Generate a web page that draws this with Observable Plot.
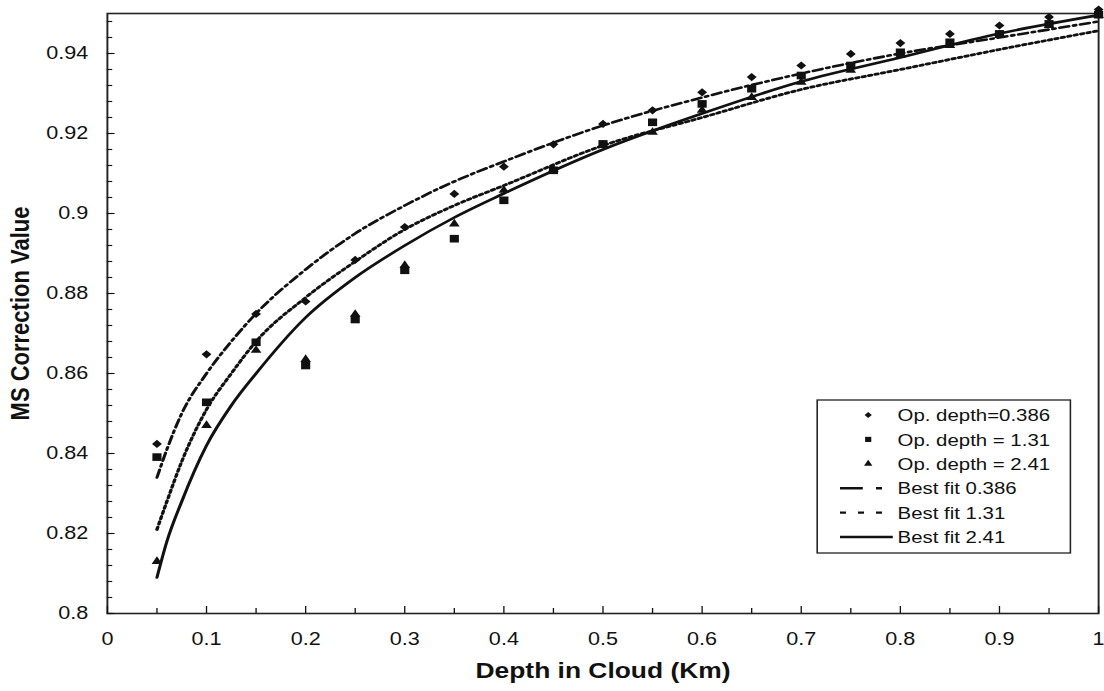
<!DOCTYPE html>
<html><head><meta charset="utf-8">
<script src="https://cdn.jsdelivr.net/npm/d3@7"></script>
<script src="https://cdn.jsdelivr.net/npm/@observablehq/plot@0.6"></script>
<style>
html,body{margin:0;padding:0;background:#fff;overflow:hidden}
#chart svg{display:block}
</style>
</head><body><div id="chart"></div>
<script>
// ---- data ----
const depths = [0.05,0.1,0.15,0.2,0.25,0.3,0.35,0.4,0.45,0.5,0.55,0.6,0.65,0.7,0.75,0.8,0.85,0.9,0.95,1.0];
const od0386 = [0.8424,0.8648,0.8749,0.878,0.8884,0.8966,0.9049,0.9117,0.9173,0.9224,0.9258,0.9303,0.9341,0.937,0.9399,0.9426,0.9449,0.947,0.9491,0.951];
const od131  = [0.8391,0.8528,0.8678,0.862,0.8735,0.8858,0.8937,0.9033,0.9108,0.9174,0.9228,0.9274,0.9312,0.9345,0.937,0.9403,0.9428,0.9449,0.9474,0.9497];
const od241  = [0.813,0.847,0.8658,0.8635,0.8748,0.887,0.8974,0.9058,0.911,0.917,0.9203,0.9258,0.929,0.9328,0.9358,0.9395,0.942,0.9445,0.947,0.9495];

const fitDepths = [0.05,0.06,0.075,0.1,0.125,0.15,0.2,0.25,0.3,0.35,0.4,0.5,0.6,0.7,0.8,0.9,1.0];
const fit0386 = [0.834,0.841,0.850,0.860,0.868,0.875,0.886,0.895,0.902,0.908,0.913,0.922,0.929,0.935,0.940,0.944,0.948];
const fit131  = [0.821,0.828,0.838,0.851,0.860,0.868,0.879,0.888,0.896,0.902,0.907,0.917,0.924,0.931,0.936,0.941,0.9457];
const fit241  = [0.809,0.818,0.828,0.842,0.852,0.860,0.874,0.884,0.892,0.899,0.905,0.916,0.925,0.933,0.939,0.945,0.9496];

const xTickLabels = [0,0.1,0.2,0.3,0.4,0.5,0.6,0.7,0.8,0.9,1];
const yTickLabels = [0.8,0.82,0.84,0.86,0.88,0.9,0.92,0.94];
const xTitle = "Depth in Cloud (Km)";
const yTitle = "MS Correction Value";
const legendLabels = ["Op. depth=0.386","Op. depth = 1.31","Op. depth = 2.41","Best fit 0.386","Best fit 1.31","Best fit 2.41"];

// ---- chart ----
const W = 920, H = 691, OUTW = 1104;
const font = "'Liberation Sans', Arial, Helvetica, sans-serif";
const ink = "#111";
const pts = ys => depths.map((d, i) => ({x: d, y: ys[i]}));
const fit = ys => fitDepths.map((d, i) => ({x: d, y: ys[i]}));
const xMinor = xTickLabels.slice(0, -1).map(v => v + 0.05);
const yMinor = d3.range(0, 38).map(i => 0.8 + i * 0.004);

function legend(index, scales, values, dims) {
  const bx = dims.width - dims.marginRight - 234;
  const by = dims.height - dims.marginBottom - 213;
  const g = d3.create("svg:g").attr("font-family", font).attr("font-size", 17).attr("fill", ink)
    .attr("text-anchor", "start");
  g.append("rect").attr("x", bx).attr("y", by).attr("width", 211).attr("height", 153)
    .attr("fill", "#fff").attr("stroke", "#222").attr("stroke-width", 1.3);
  const rowY = i => by + 15 + i * 24.4;
  const syms = [[d3.symbolDiamond2, 2.7], [d3.symbolSquare, 2.9], [d3.symbolTriangle, 2.6]];
  syms.forEach(([s, r], i) => g.append("path")
    .attr("transform", `translate(${bx + 42.5},${rowY(i)})`)
    .attr("d", d3.symbol(s, Math.PI * r * r)()));
  const dashes = ["19,11,5,40", "5,10", null];
  dashes.forEach((da, j) => {
    const l = g.append("line").attr("x1", bx + 19).attr("x2", bx + 63)
      .attr("y1", rowY(3 + j)).attr("y2", rowY(3 + j))
      .attr("stroke", ink).attr("stroke-width", 2.4);
    if (da) l.attr("stroke-dasharray", da);
  });
  legendLabels.forEach((t, i) => g.append("text").attr("x", bx + 67).attr("y", rowY(i))
    .attr("dy", "0.36em").attr("text-anchor", "start").text(t));
  return g.node();
}

const chart = Plot.plot({
  width: W, height: H,
  marginLeft: 89, marginRight: 5, marginTop: 13, marginBottom: 78,
  style: {fontFamily: font, background: "#fff", color: ink},
  x: {domain: [0, 1]},
  y: {domain: [0.8, 0.95]},
  marks: [
    Plot.frame({stroke: "#222", strokeWidth: 1.6}),
    Plot.axisX(xMinor, {tickSize: -5, text: null, label: null, strokeWidth: 1.1}),
    Plot.axisX(xTickLabels, {tickSize: -7, text: null, label: null, strokeWidth: 1.1}),
    Plot.axisX(xTickLabels, {tickSize: 0, tickPadding: 19, fontSize: 18, tickFormat: d => String(d), label: null}),
    Plot.axisY(yMinor, {tickSize: -4.5, text: null, label: null, strokeWidth: 1.1}),
    Plot.axisY(yTickLabels, {tickSize: -6.5, text: null, label: null, strokeWidth: 1.1}),
    Plot.axisY(yTickLabels, {tickSize: 0, tickPadding: 16, fontSize: 18, tickFormat: d => String(d), label: null}),
    Plot.text([xTitle], {frameAnchor: "bottom", dy: 64, textAnchor: "middle", fontSize: 22, fontWeight: "bold", fill: ink}),
    Plot.text([yTitle], {frameAnchor: "left", dx: -72, rotate: -90, textAnchor: "middle", fontSize: 22, fontWeight: "bold", fill: ink}),
    Plot.line(fit(fit0386), {x: "x", y: "y", curve: "monotone-x", stroke: ink, strokeWidth: 2.6, strokeDasharray: "8,3.5,2.5,3.5"}),
    Plot.line(fit(fit131), {x: "x", y: "y", curve: "monotone-x", stroke: ink, strokeWidth: 2.8, strokeDasharray: "2.5,3"}),
    Plot.line(fit(fit241), {x: "x", y: "y", curve: "monotone-x", stroke: ink, strokeWidth: 2.6}),
    Plot.dot(pts(od0386), {x: "x", y: "y", symbol: "diamond2", r: 3.7, fill: ink, stroke: "none"}),
    Plot.dot(pts(od131), {x: "x", y: "y", symbol: "square", r: 4.3, fill: ink, stroke: "none"}),
    Plot.dot(pts(od241), {x: "x", y: "y", symbol: "triangle", r: 3.3, fill: ink, stroke: "none"}),
    legend
  ]
});
chart.setAttribute("width", OUTW);
chart.setAttribute("height", H);
chart.setAttribute("viewBox", `0 0 ${W} ${H}`);
chart.setAttribute("preserveAspectRatio", "none");
chart.style.width = OUTW + "px";
chart.style.height = H + "px";
chart.style.maxWidth = "none";
document.getElementById("chart").appendChild(chart);
</script>
</body></html>
